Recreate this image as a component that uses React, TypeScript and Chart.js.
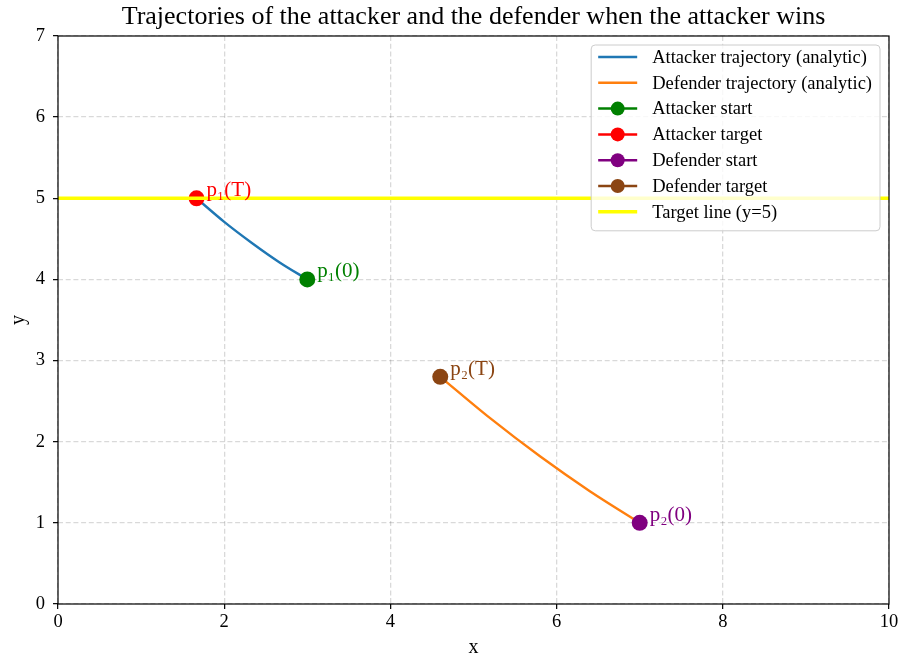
import React, { useEffect, useRef } from "react";
import { Chart, registerables } from "chart.js";

Chart.register(...registerables);

// Analytic trajectories (sampled)
const attackerX = [3.0, 2.667, 2.333, 2.0, 1.667];
const attackerY = [4.0, 4.21, 4.45, 4.71, 5.0];
const defenderX = [7.0, 6.4, 5.8, 5.2, 4.6];
const defenderY = [1.0, 1.39, 1.82, 2.29, 2.8];

// Start / target positions
const attackerStart = [3.0, 4.0];
const attackerTarget = [1.667, 5.0];
const defenderStart = [7.0, 1.0];
const defenderTarget = [4.6, 2.8];

// Target line
const targetLineY = 5;
const xRange = [0, 10];
const yRange = [0, 7];
const xTicks = [0, 2, 4, 6, 8, 10];
const yTicks = [0, 1, 2, 3, 4, 5, 6, 7];

const legendLabels = [
  "Attacker trajectory (analytic)",
  "Defender trajectory (analytic)",
  "Attacker start",
  "Attacker target",
  "Defender start",
  "Defender target",
  "Target line (y=5)",
];

const pointLabels = ["p\u2081(0)", "p\u2081(T)", "p\u2082(0)", "p\u2082(T)"];

const SERIF = "'Liberation Serif', 'Times New Roman', serif";

const toXY = (xs: number[], ys: number[]) => xs.map((x, i) => ({ x, y: ys[i] }));

const annotationsPlugin = {
  id: "annotations",
  afterDatasetsDraw(chart: any) {
    const { ctx, chartArea } = chart;
    // axes frame
    ctx.save();
    ctx.strokeStyle = "#000";
    ctx.lineWidth = 1.2;
    ctx.strokeRect(chartArea.left, chartArea.top, chartArea.right - chartArea.left, chartArea.bottom - chartArea.top);
    ctx.restore();

    // point labels
    ctx.save();
    ctx.font = `21px ${SERIF}`;
    ctx.textAlign = "left";
    ctx.textBaseline = "alphabetic";
    chart.data.datasets.forEach((ds: any, i: number) => {
      if (!ds.pointText) return;
      const meta = chart.getDatasetMeta(i);
      const el = meta.data[0];
      if (!el) return;
      ctx.fillStyle = ds.backgroundColor;
      ctx.fillText(ds.pointText, el.x + 10, el.y - 2);
    });
    ctx.restore();
  },
  afterDraw(chart: any) {
    const { ctx, chartArea } = chart;
    const items = legendLabels
      .map((lbl) => chart.data.datasets.find((d: any) => d.label === lbl))
      .filter(Boolean);
    ctx.save();
    ctx.font = `18.5px ${SERIF}`;
    const maxW = Math.max(...items.map((d: any) => ctx.measureText(d.label).width));
    const rowH = 25.8;
    const boxW = 61 + maxW + 8;
    const boxH = 12 + rowH * (items.length - 1) + 19;
    const bx = chartArea.right - 9 - boxW;
    const by = chartArea.top + 9;
    ctx.beginPath();
    ctx.roundRect(bx, by, boxW, boxH, 4);
    ctx.fillStyle = "rgba(255,255,255,0.8)";
    ctx.fill();
    ctx.strokeStyle = "#cccccc";
    ctx.lineWidth = 1;
    ctx.stroke();

    items.forEach((d: any, i: number) => {
      const cy = by + 12 + i * rowH;
      ctx.beginPath();
      ctx.moveTo(bx + 7, cy);
      ctx.lineTo(bx + 46, cy);
      ctx.strokeStyle = d.borderColor;
      ctx.lineWidth = d.legendLineWidth || d.borderWidth;
      ctx.stroke();
      if (d.pointRadius > 0) {
        ctx.beginPath();
        ctx.arc(bx + 26.5, cy, 7, 0, Math.PI * 2);
        ctx.fillStyle = d.backgroundColor;
        ctx.fill();
      }
      ctx.fillStyle = "#000";
      ctx.textAlign = "left";
      ctx.textBaseline = "middle";
      ctx.fillText(d.label, bx + 61, cy + 1);
    });
    ctx.restore();
  },
};

function pointDataset(label: string, pos: number[], color: string, text: string) {
  return {
    label,
    data: [{ x: pos[0], y: pos[1] }],
    showLine: false,
    borderColor: color,
    backgroundColor: color,
    borderWidth: 2,
    legendLineWidth: 2.5,
    pointRadius: 8,
    pointBorderWidth: 0,
    pointBackgroundColor: color,
    order: 1,
    pointText: text,
  };
}

const gridOpts = {
  color: "rgba(0,0,0,0.15)",
  tickColor: "#000",
  tickLength: 5,
  tickBorderDash: [],
  tickWidth: 1.2,
  lineWidth: 1.3,
};

export default function App() {
  const canvasRef = useRef<HTMLCanvasElement>(null);

  useEffect(() => {
    if (!canvasRef.current) return;
    Chart.defaults.font.family = SERIF;
    Chart.defaults.color = "#000";
    const chart = new Chart(canvasRef.current, {
      type: "scatter",
      data: {
        datasets: [
          {
            label: legendLabels[0],
            data: toXY(attackerX, attackerY),
            showLine: true,
            borderColor: "#1f77b4",
            backgroundColor: "#1f77b4",
            borderWidth: 2.4,
            pointRadius: 0,
            tension: 0.3,
            order: 2,
          },
          {
            label: legendLabels[1],
            data: toXY(defenderX, defenderY),
            showLine: true,
            borderColor: "#ff7f0e",
            backgroundColor: "#ff7f0e",
            borderWidth: 2.4,
            pointRadius: 0,
            tension: 0.3,
            order: 2,
          },
          pointDataset(legendLabels[2], attackerStart, "#008000", pointLabels[0]),
          pointDataset(legendLabels[3], attackerTarget, "#ff0000", pointLabels[1]),
          pointDataset(legendLabels[4], defenderStart, "#800080", pointLabels[2]),
          pointDataset(legendLabels[5], defenderTarget, "#8b4513", pointLabels[3]),
          {
            label: legendLabels[6],
            data: [
              { x: xRange[0], y: targetLineY },
              { x: xRange[1], y: targetLineY },
            ],
            showLine: true,
            borderColor: "#ffff00",
            backgroundColor: "#ffff00",
            borderWidth: 3.5,
            pointRadius: 0,
            order: 0,
          },
        ] as any,
      },
      options: {
        animation: false,
        responsive: true,
        maintainAspectRatio: false,
        layout: { padding: { left: 0, right: 19, top: 0, bottom: 0 } },
        plugins: {
          legend: { display: false },
          tooltip: { enabled: false },
          title: {
            display: true,
            text: "Trajectories of the attacker and the defender when the attacker wins",
            fullSize: false,
            color: "#000",
            font: { size: 26, weight: "normal", family: SERIF, lineHeight: 1.2 },
            padding: { top: 1.5, bottom: 3.3 },
          },
        },
        scales: {
          x: {
            type: "linear",
            min: xRange[0],
            max: xRange[1],
            afterBuildTicks: (s: any) => {
              s.ticks = xTicks.map((v) => ({ value: v }));
            },
            afterFit: (s: any) => {
              s.height = 56;
            },
            ticks: { font: { size: 18.5 }, color: "#000", padding: 2, maxRotation: 0 },
            grid: gridOpts,
            border: { display: false, dash: [5, 2.7] },
            title: { display: true, text: "x", font: { size: 20 }, color: "#000", padding: { top: 0, bottom: 0 } },
          },
          y: {
            type: "linear",
            min: yRange[0],
            max: yRange[1],
            afterBuildTicks: (s: any) => {
              s.ticks = yTicks.map((v) => ({ value: v }));
            },
            afterFit: (s: any) => {
              s.width = 58;
            },
            ticks: { font: { size: 18.5 }, color: "#000", padding: 8 },
            grid: gridOpts,
            border: { display: false, dash: [5, 2.7] },
            title: { display: true, text: "y", font: { size: 20 }, color: "#000", padding: { top: 7, bottom: 0 } },
          },
        },
      } as any,
      plugins: [annotationsPlugin],
    });
    return () => chart.destroy();
  }, []);

  return (
    <div style={{ position: "absolute", left: 0, top: 0, width: 908, height: 660, background: "#fff" }}>
      <canvas ref={canvasRef} />
    </div>
  );
}
